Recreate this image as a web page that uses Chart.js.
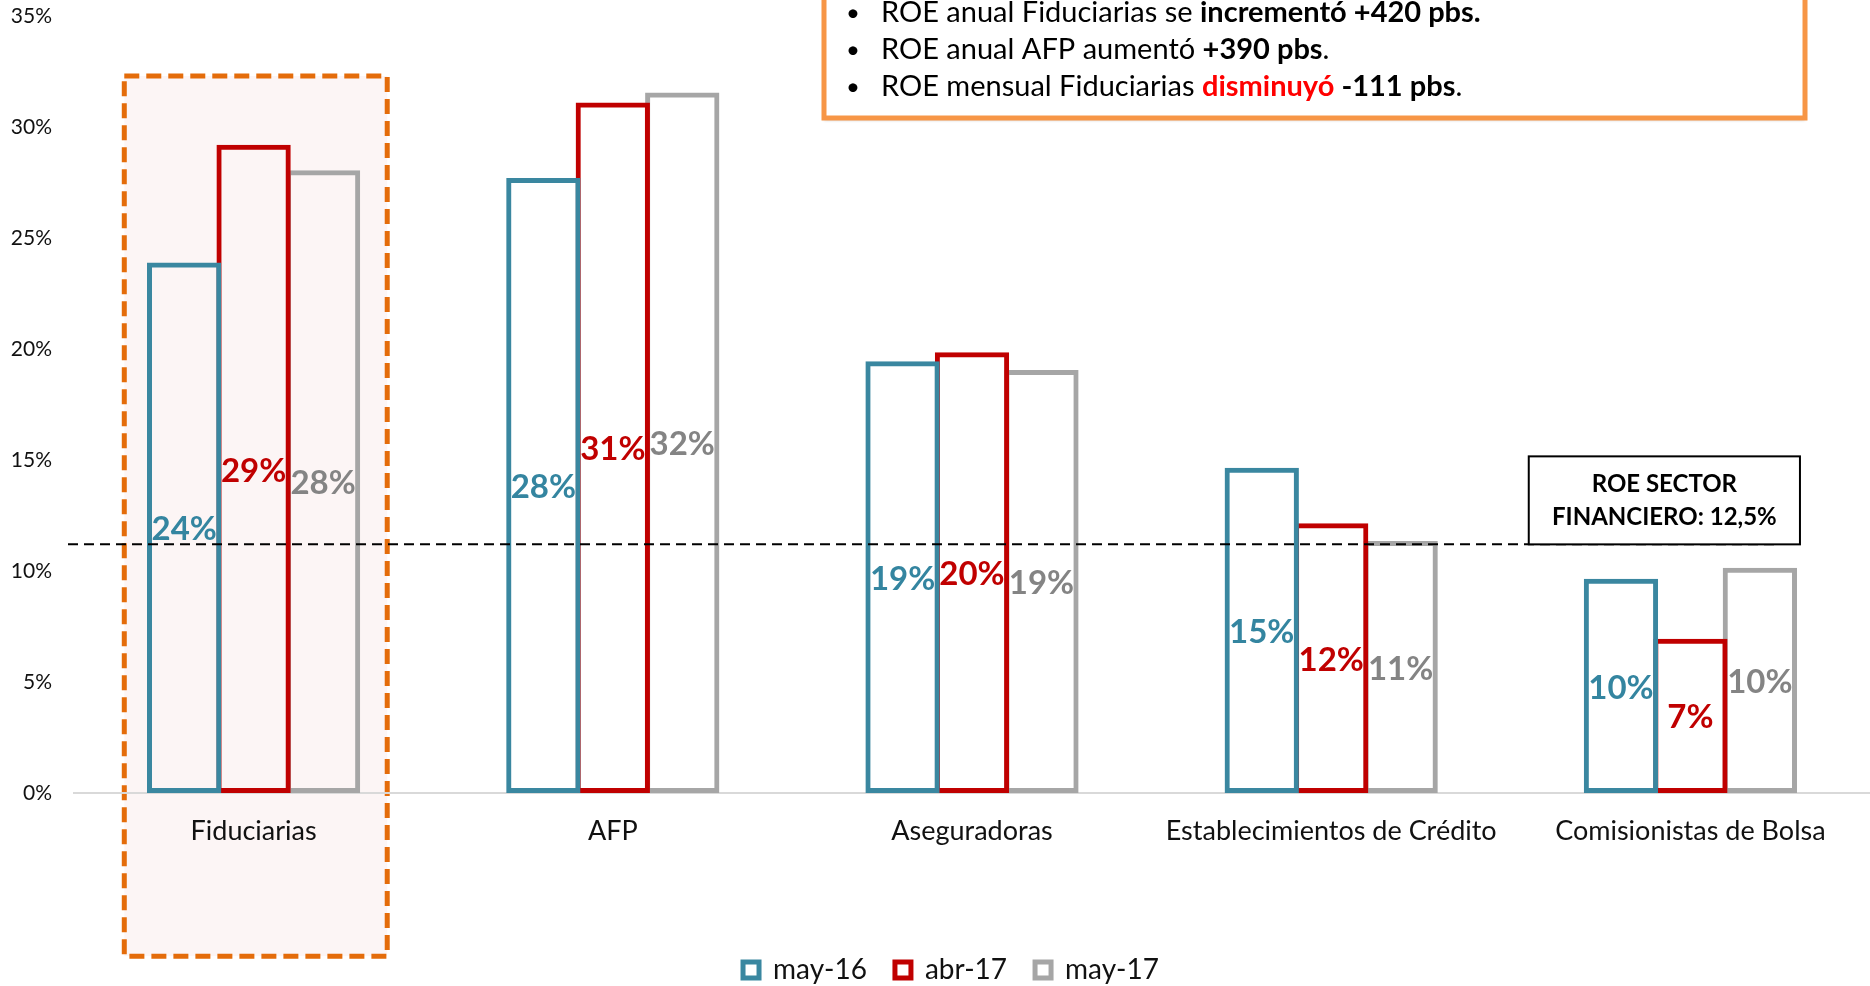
<!DOCTYPE html>
<html><head><meta charset="utf-8">
<script src="https://cdn.jsdelivr.net/npm/chart.js@4.4.1/dist/chart.umd.min.js"></script>
<style>html,body{margin:0;padding:0;background:#fff;}canvas{display:block;}</style>
</head><body>
<canvas id="c" width="1870" height="986"></canvas>
<script>
const categories = ['Fiduciarias','AFP','Aseguradoras','Establecimientos de Crédito','Comisionistas de Bolsa'];
const seriesNames = ['may-16','abr-17','may-17'];
const may16 = [23.9, 27.7, 19.45, 14.65, 9.65];
const abr17 = [29.2, 31.1, 19.85, 12.15, 6.95];
const may17 = [28.05, 31.55, 19.05, 11.35, 10.15];
const yTicks = [0, 5, 10, 15, 20, 25, 30, 35];
const referenceLine = 11.2;
const referenceLabel = ['ROE SECTOR', 'FINANCIERO: 12,5%'];
const notes = [
  [{t:'ROE anual Fiduciarias se ', b:false}, {t:'incrementó +420 pbs.', b:true}],
  [{t:'ROE anual AFP aumentó ', b:false}, {t:'+390 pbs', b:true}, {t:'.', b:false}],
  [{t:'ROE mensual Fiduciarias ', b:false}, {t:'disminuyó', b:true, c:'#FF0000'}, {t:' -111 pbs', b:true}, {t:'.', b:false}]
];

const FONT = 'Lato';
const barColors = ['#3A87A0', '#C00000', '#A6A6A6'];
const labelColors = ['#3485A0', '#C00000', '#848484'];

const decor = {
  id: 'decor',
  afterLayout(chart) {
    const lg = chart.legend;
    if (lg) { lg.left += 16; lg.right += 16; lg.top += 8; lg.bottom += 8; }
  },
  beforeDraw(chart) {
    const {ctx, scales: {x, y}} = chart;
    const cw = x.width / categories.length;
    const cx = x.getPixelForValue(0);
    const l = cx - cw * 0.36, r = cx + cw * 0.372;
    const t = y.getPixelForValue(32.3), b = y.getPixelForValue(-7.35);
    ctx.save();
    ctx.fillStyle = '#FCF5F5';
    ctx.fillRect(l, t, r - l, b - t);
    ctx.strokeStyle = '#E46C0A';
    ctx.lineWidth = 5;
    ctx.setLineDash([15, 7]);
    ctx.strokeRect(l, t, r - l, b - t);
    ctx.restore();
  },
  afterDatasetsDraw(chart) {
    const {ctx, scales: {x, y}} = chart;
    ctx.save();
    const ry = y.getPixelForValue(referenceLine);
    const cw = x.width / categories.length;
    ctx.strokeStyle = '#000';
    ctx.lineWidth = 2;
    ctx.setLineDash([10, 6]);
    ctx.beginPath();
    ctx.moveTo(x.left - 6, ry);
    ctx.lineTo(x.getPixelForValue(4) + cw * 0.24, ry);
    ctx.stroke();
    ctx.setLineDash([]);
    ctx.font = 'bold 33px ' + FONT;
    ctx.textAlign = 'center';
    ctx.textBaseline = 'middle';
    chart.data.datasets.forEach((ds, i) => {
      const meta = chart.getDatasetMeta(i);
      meta.data.forEach((el, j) => {
        const v = ds.data[j];
        ctx.fillStyle = labelColors[i];
        ctx.fillText(Math.round(v) + '%', el.x, y.getPixelForValue(v / 2) + 2);
      });
    });
    const bx = x.getPixelForValue(4) - cw * 0.45, bw = cw * 0.755;
    const bTop = ry - 88;
    ctx.fillStyle = '#fff';
    ctx.fillRect(bx, bTop, bw, 88);
    ctx.strokeStyle = '#000';
    ctx.lineWidth = 2;
    ctx.strokeRect(bx, bTop, bw, 88);
    ctx.fillStyle = '#000';
    ctx.font = 'bold 24px ' + FONT;
    ctx.fillText(referenceLabel[0], bx + bw / 2, bTop + 28);
    ctx.fillText(referenceLabel[1], bx + bw / 2, bTop + 61);
    ctx.save();
    ctx.shadowColor = 'rgba(0,0,0,0.25)';
    ctx.shadowOffsetY = 2; ctx.shadowBlur = 3;
    ctx.fillStyle = '#fff';
    ctx.fillRect(824, -20, 981, 138);
    ctx.restore();
    ctx.strokeStyle = '#F79646';
    ctx.lineWidth = 5;
    ctx.strokeRect(824, -20, 981, 138);
    ctx.textAlign = 'left';
    notes.forEach((line, k) => {
      const ly = 13 + k * 37;
      ctx.font = '24px ' + FONT;
      ctx.fillStyle = '#000';
      ctx.fillText('•', 846, ly);
      let px = 881;
      line.forEach(seg => {
        ctx.font = (seg.b ? 'bold ' : '') + '29px ' + FONT;
        ctx.fillStyle = seg.c || '#000';
        ctx.fillText(seg.t, px, ly);
        px += ctx.measureText(seg.t).width;
      });
    });
    ctx.restore();
  }
};

new Chart(document.getElementById('c'), {
  type: 'bar',
  data: {
    labels: categories,
    datasets: [may16, abr17, may17].map((d, i) => ({
      label: seriesNames[i],
      data: d,
      backgroundColor: 'rgba(0,0,0,0)',
      borderColor: barColors[i],
      borderWidth: 5,
      borderSkipped: false,
      barPercentage: 1.07,
      categoryPercentage: 0.58
    }))
  },
  options: {
    responsive: false,
    animation: false,
    devicePixelRatio: 1,
    layout: {padding: {top: 16, left: 0, right: 0, bottom: 0}},
    scales: {
      x: {
        grid: {display: false, drawTicks: false},
        border: {display: true, color: '#D9D9D9', width: 2},
        ticks: {font: {family: FONT, size: 27}, color: '#111', padding: 22, maxRotation: 0, autoSkip: false},
        afterFit(s) { s.height = 127; }
      },
      y: {
        min: 0, max: 35,
        afterBuildTicks(s) { s.ticks = yTicks.map(v => ({value: v})); },
        ticks: {callback: v => v + '%', font: {family: FONT, size: 21}, color: '#111', padding: 22},
        grid: {display: false, drawTicks: false},
        border: {display: false},
        afterFit(s) { s.width = 74; s.paddingTop = 0; s.paddingBottom = 0; }
      }
    },
    plugins: {
      legend: {
        position: 'bottom',
        labels: {font: {family: FONT, size: 28}, color: '#111', boxWidth: 16, boxHeight: 16, padding: 28}
      },
      tooltip: {enabled: false}
    }
  },
  plugins: [decor]
});
</script>
</body></html>
